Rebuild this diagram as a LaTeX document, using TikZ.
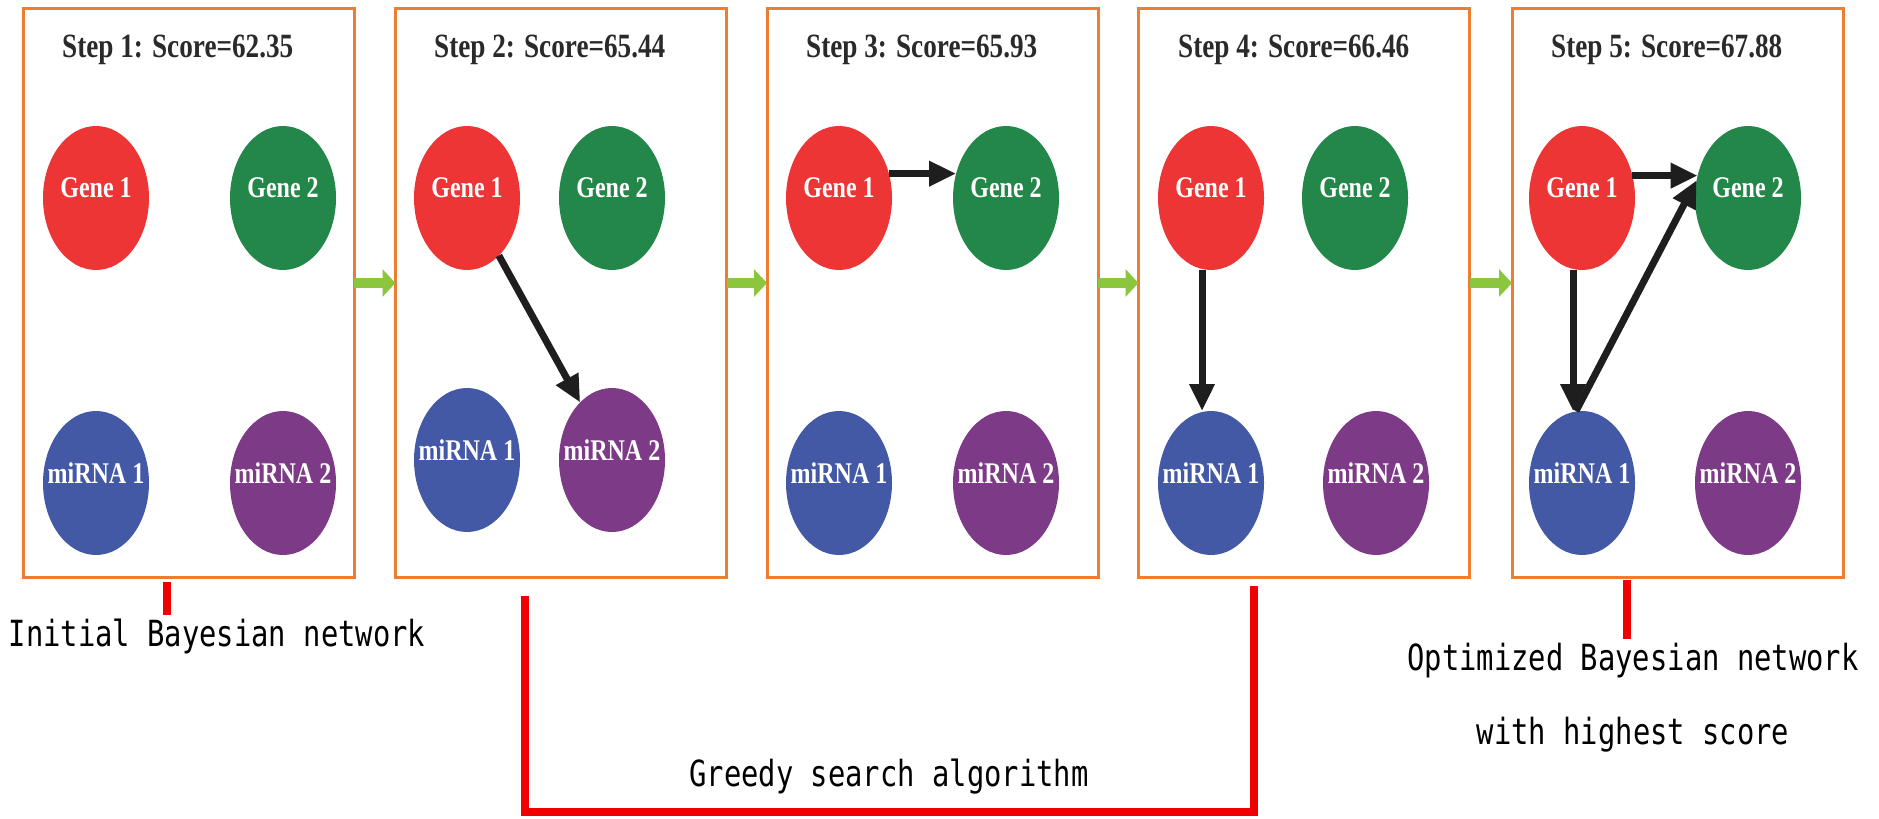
\documentclass[tikz,border=0pt]{standalone}
\usepackage{fontspec}
\usetikzlibrary{shapes.geometric,arrows.meta,calc}
\newfontfamily\nodefont[FakeStretch=0.8]{Liberation Serif}
\newfontfamily\labfont[FakeStretch=0.8]{DejaVu Sans Mono}
\definecolor{boxorange}{HTML}{ED7D31}
\definecolor{nred}{HTML}{EE3536}
\definecolor{ngreen}{HTML}{23874A}
\definecolor{nblue}{HTML}{4459A6}
\definecolor{npurple}{HTML}{7D3A87}
\definecolor{garrow}{HTML}{8CC63F}
\definecolor{redline}{HTML}{F00000}
\definecolor{darkarrow}{HTML}{1E1E1E}
\definecolor{titlegray}{HTML}{2A2A2A}
\begin{document}
\begin{tikzpicture}[x=1pt,y=-1pt,
  frame/.style={draw=boxorange, line width=3pt, minimum width=331pt, minimum height=569pt, inner sep=0pt, outer sep=0pt},
  bnode/.style={ellipse, minimum width=106pt, minimum height=144pt, inner sep=0pt, outer sep=0pt},
  ntext/.style={text=white, font=\nodefont\bfseries\fontsize{30}{36}\selectfont, yshift=10pt, inner sep=0pt},
  ttl/.style={anchor=base west, text=titlegray, font=\nodefont\bfseries\fontsize{34}{40}\selectfont, inner sep=0pt},
  lab/.style={anchor=base, text=black, font=\labfont\fontsize{36}{40}\selectfont, inner sep=3pt},
  barr/.style={draw=darkarrow, line width=7pt, -{Triangle[length=27pt,width=24pt]}},
  garr/.style={draw=garrow, line width=10pt, -{Triangle[length=13pt,width=27pt]}},
  redl/.style={draw=redline, line width=8pt, line join=miter}
]
\useasboundingbox (0,0) rectangle (1879,819);
\fill[white] (0,0) rectangle (1879,819);

% frames
\node[frame] (box1) at (188.5,292.5) {};
\node[frame] (box2) at (561,292.5) {};
\node[frame] (box3) at (932.5,292.5) {};
\node[frame] (box4) at (1304,292.5) {};
\node[frame] (box5) at (1677.5,292.5) {};

% titles
\node[ttl] (t1) at (62,57) {Step 1: Score=62.35};
\node[ttl] (t2) at (434,57) {Step 2: Score=65.44};
\node[ttl] (t3) at (806,57) {Step 3: Score=65.93};
\node[ttl] (t4) at (1178,57) {Step 4: Score=66.46};
\node[ttl] (t5) at (1551,57) {Step 5: Score=67.88};

% box 1
\node[bnode, fill=nred, label={[ntext]center:Gene 1}] (b1g1) at (96,198) {};
\node[bnode, fill=ngreen, label={[ntext]center:Gene 2}] (b1g2) at (283,198) {};
\node[bnode, fill=nblue, label={[ntext]center:miRNA 1}] (b1m1) at (96,483) {};
\node[bnode, fill=npurple, label={[ntext]center:miRNA 2}] (b1m2) at (283,483) {};
% box 2
\node[bnode, fill=nred, label={[ntext]center:Gene 1}] (b2g1) at (467,198) {};
\node[bnode, fill=ngreen, label={[ntext]center:Gene 2}] (b2g2) at (612,198) {};
\node[bnode, fill=nblue, label={[ntext]center:miRNA 1}] (b2m1) at (467,460) {};
\node[bnode, fill=npurple, label={[ntext]center:miRNA 2}] (b2m2) at (612,460) {};
% box 3
\node[bnode, fill=nred, label={[ntext]center:Gene 1}] (b3g1) at (839,198) {};
\node[bnode, fill=ngreen, label={[ntext]center:Gene 2}] (b3g2) at (1006,198) {};
\node[bnode, fill=nblue, label={[ntext]center:miRNA 1}] (b3m1) at (839,483) {};
\node[bnode, fill=npurple, label={[ntext]center:miRNA 2}] (b3m2) at (1006,483) {};
% box 4
\node[bnode, fill=nred, label={[ntext]center:Gene 1}] (b4g1) at (1211,198) {};
\node[bnode, fill=ngreen, label={[ntext]center:Gene 2}] (b4g2) at (1355,198) {};
\node[bnode, fill=nblue, label={[ntext]center:miRNA 1}] (b4m1) at (1211,483) {};
\node[bnode, fill=npurple, label={[ntext]center:miRNA 2}] (b4m2) at (1376,483) {};
% box 5
\node[bnode, fill=nred, label={[ntext]center:Gene 1}] (b5g1) at (1582,198) {};
\node[bnode, fill=ngreen, label={[ntext]center:Gene 2}] (b5g2) at (1748,198) {};
\node[bnode, fill=nblue, label={[ntext]center:miRNA 1}] (b5m1) at (1582,483) {};
\node[bnode, fill=npurple, label={[ntext]center:miRNA 2}] (b5m2) at (1748,483) {};

% network arrows
\draw[barr] (b2g1) -- (b2m2);
\draw[barr] (b3g1.26) -- (b3g2.154);
\draw[barr] ([xshift=-9pt]b4g1.south) -- ([xshift=-9pt]b4m1.north);
\draw[barr] (b5g1.24) -- (b5g2.156);
\draw[barr] ([xshift=-9pt]b5g1.south) -- ([xshift=-9pt]b5m1.north);
\draw[barr] ([xshift=-6pt]b5m1.north) -- (b5g2.161);

% green arrows between steps
\draw[garr] ([yshift=9.5pt]box1.east) -- ([yshift=9.5pt]box2.west);
\draw[garr] ([yshift=9.5pt]box2.east) -- ([yshift=9.5pt]box3.west);
\draw[garr] ([yshift=9.5pt]box3.east) -- ([yshift=9.5pt]box4.west);
\draw[garr] ([yshift=9.5pt]box4.east) -- ([yshift=9.5pt]box5.west);

% labels
\node[lab] (linit) at (217,646) {Initial Bayesian network};
\node[lab] (lgreedy) at (889,786) {Greedy search algorithm};
\node[lab] (lopt1) at (1633,670) {Optimized Bayesian network};
\node[lab] (lopt2) at (1633,744) {with highest score};

% red connectors
\coordinate (t1s) at ([xshift=-21.5pt,yshift=-5pt]box1.south);
\draw[redl] (t1s) -- (t1s |- linit.north);
\coordinate (gA) at ([xshift=-36pt,yshift=-19pt]box2.south);
\coordinate (gB) at ([xshift=-50pt,yshift=-9pt]box4.south);
\coordinate (gbot) at (0,812);
\draw[redl] (gA) -- (gA |- gbot) -- (gB |- gbot) -- (gB);
\coordinate (t5s) at ([xshift=-50.5pt,yshift=-3pt]box5.south);
\draw[redl] (t5s) -- (t5s |- lopt1.north);
\end{tikzpicture}
\end{document}
